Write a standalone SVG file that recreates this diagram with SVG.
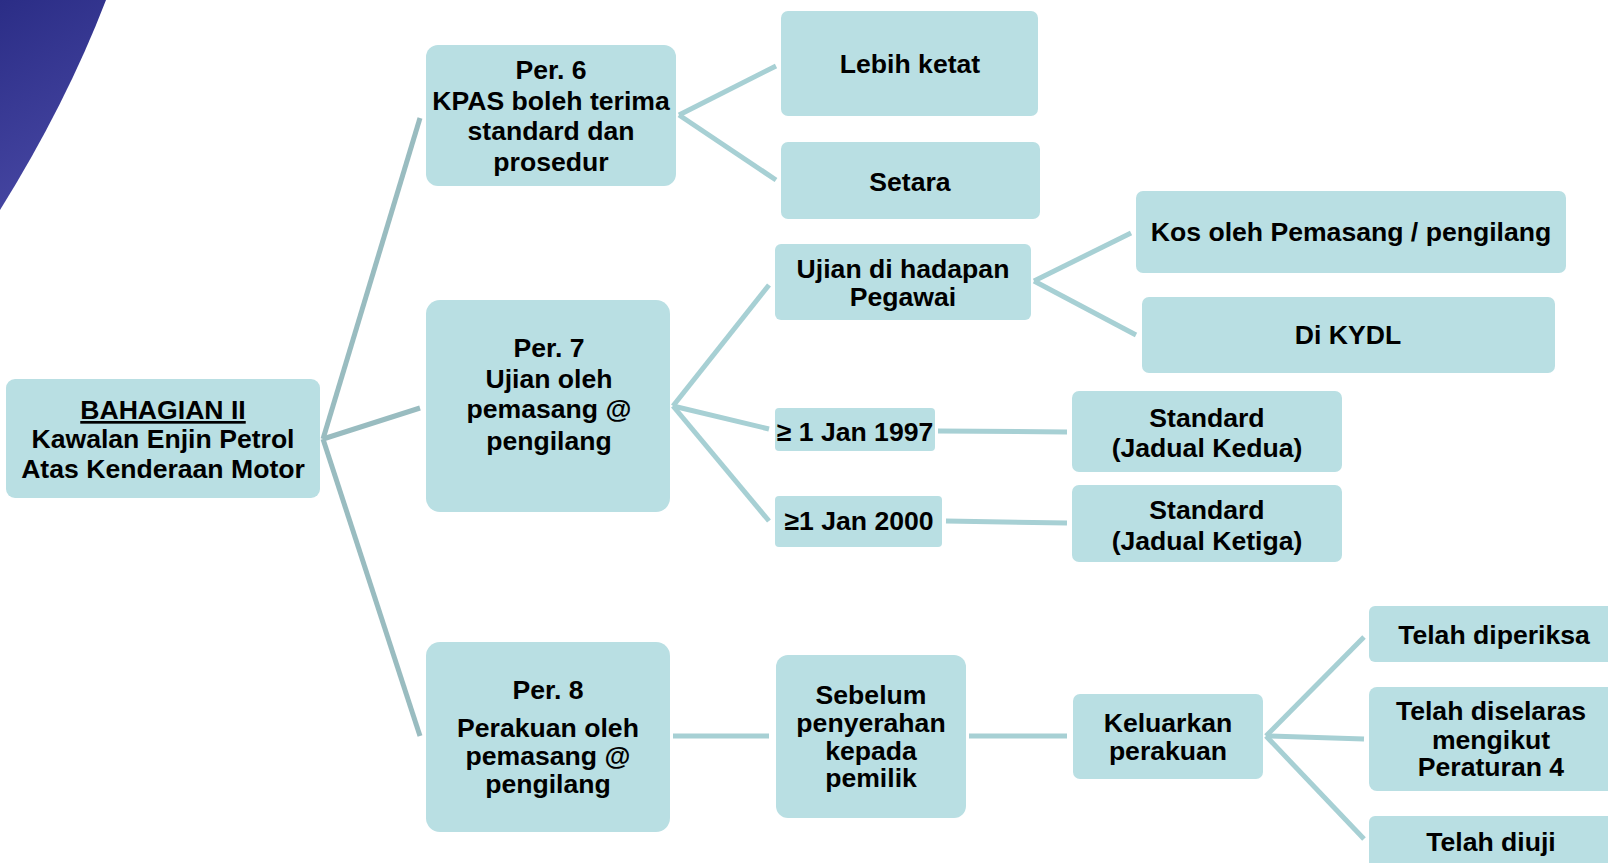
<svg xmlns="http://www.w3.org/2000/svg" width="1608" height="863" viewBox="0 0 1608 863">
  <defs>
    <linearGradient id="corner" x1="0" y1="0" x2="0.3" y2="1">
      <stop offset="0" stop-color="#2b2d86"/>
      <stop offset="1" stop-color="#4646a2"/>
    </linearGradient>
    <style>
      .box { fill: #b9dfe3; }
      .lbl { font-family: "Liberation Sans", Arial, sans-serif; font-weight: bold; font-size: 26.6px; fill: #000; text-anchor: middle; }
      .trunk { stroke: #99bcc0; stroke-width: 5; fill: none; }
      .branch { stroke: #a7d0d4; stroke-width: 5; fill: none; }
    </style>
  </defs>

  <rect width="1608" height="863" fill="#ffffff"/>

  <!-- decorative swoosh, top-left -->
  <path d="M0,0 L106,0 Q66,104 0,210 Z" fill="url(#corner)"/>

  <!-- connectors -->
  <g id="connectors">
    <line class="trunk" x1="323" y1="439" x2="420" y2="118"/>
    <line class="trunk" x1="323" y1="439" x2="420" y2="408"/>
    <line class="trunk" x1="323" y1="439" x2="420" y2="736"/>

    <line class="branch" x1="679" y1="115" x2="776" y2="66"/>
    <line class="branch" x1="679" y1="115" x2="776" y2="180"/>

    <line class="branch" x1="673" y1="406" x2="769" y2="285"/>
    <line class="branch" x1="673" y1="406" x2="769" y2="429"/>
    <line class="branch" x1="673" y1="406" x2="769" y2="521"/>

    <line class="branch" x1="1034" y1="281" x2="1131" y2="233"/>
    <line class="branch" x1="1034" y1="281" x2="1136" y2="335"/>

    <line class="branch" x1="938" y1="431" x2="1067" y2="432"/>
    <line class="branch" x1="946" y1="521" x2="1067" y2="523"/>

    <line class="branch" x1="673" y1="736" x2="769" y2="736"/>
    <line class="branch" x1="969" y1="736" x2="1067" y2="736"/>

    <line class="branch" x1="1266" y1="736" x2="1364" y2="637"/>
    <line class="branch" x1="1266" y1="736" x2="1364" y2="739"/>
    <line class="branch" x1="1266" y1="736" x2="1364" y2="839"/>
  </g>

  <!-- root -->
  <g id="root">
    <rect class="box" x="6" y="379" width="314" height="119" rx="9"/>
    <text class="lbl" x="163" y="419" text-decoration="underline">BAHAGIAN II</text>
    <text class="lbl" x="163" y="448">Kawalan Enjin Petrol</text>
    <text class="lbl" x="163" y="478">Atas Kenderaan Motor</text>
  </g>

  <!-- Per. 6 branch -->
  <g id="per6">
    <rect class="box" x="426" y="45" width="250" height="141" rx="12"/>
    <text class="lbl" x="551" y="79">Per. 6</text>
    <text class="lbl" x="551" y="110">KPAS boleh terima</text>
    <text class="lbl" x="551" y="140">standard dan</text>
    <text class="lbl" x="551" y="171">prosedur</text>
  </g>
  <g id="lebih-ketat">
    <rect class="box" x="781" y="11" width="257" height="105" rx="7"/>
    <text class="lbl" x="910" y="73">Lebih ketat</text>
  </g>
  <g id="setara">
    <rect class="box" x="781" y="142" width="259" height="77" rx="7"/>
    <text class="lbl" x="910" y="191">Setara</text>
  </g>

  <!-- Per. 7 branch -->
  <g id="per7">
    <rect class="box" x="426" y="300" width="244" height="212" rx="14"/>
    <text class="lbl" x="549" y="357">Per. 7</text>
    <text class="lbl" x="549" y="388">Ujian oleh</text>
    <text class="lbl" x="549" y="418">pemasang @</text>
    <text class="lbl" x="549" y="450">pengilang</text>
  </g>
  <g id="ujian-pegawai">
    <rect class="box" x="775" y="244" width="256" height="76" rx="6"/>
    <text class="lbl" x="903" y="278">Ujian di hadapan</text>
    <text class="lbl" x="903" y="306">Pegawai</text>
  </g>
  <g id="kos">
    <rect class="box" x="1136" y="191" width="430" height="82" rx="7"/>
    <text class="lbl" x="1351" y="241">Kos oleh Pemasang / pengilang</text>
  </g>
  <g id="kydl">
    <rect class="box" x="1142" y="297" width="413" height="76" rx="7"/>
    <text class="lbl" x="1348" y="344">Di KYDL</text>
  </g>
  <g id="jan1997">
    <rect class="box" x="775" y="408" width="160" height="43" rx="4"/>
    <text class="lbl" x="855" y="441">≥ 1 Jan 1997</text>
  </g>
  <g id="jan2000">
    <rect class="box" x="775" y="496" width="167" height="51" rx="4"/>
    <text class="lbl" x="859" y="530">≥1 Jan 2000</text>
  </g>
  <g id="jadual-kedua">
    <rect class="box" x="1072" y="391" width="270" height="81" rx="7"/>
    <text class="lbl" x="1207" y="427">Standard</text>
    <text class="lbl" x="1207" y="457">(Jadual Kedua)</text>
  </g>
  <g id="jadual-ketiga">
    <rect class="box" x="1072" y="485" width="270" height="77" rx="7"/>
    <text class="lbl" x="1207" y="519">Standard</text>
    <text class="lbl" x="1207" y="550">(Jadual Ketiga)</text>
  </g>

  <!-- Per. 8 branch -->
  <g id="per8">
    <rect class="box" x="426" y="642" width="244" height="190" rx="14"/>
    <text class="lbl" x="548" y="699">Per. 8</text>
    <text class="lbl" x="548" y="737">Perakuan oleh</text>
    <text class="lbl" x="548" y="765">pemasang @</text>
    <text class="lbl" x="548" y="793">pengilang</text>
  </g>
  <g id="sebelum">
    <rect class="box" x="776" y="655" width="190" height="163" rx="12"/>
    <text class="lbl" x="871" y="704">Sebelum</text>
    <text class="lbl" x="871" y="732">penyerahan</text>
    <text class="lbl" x="871" y="760">kepada</text>
    <text class="lbl" x="871" y="787">pemilik</text>
  </g>
  <g id="keluarkan">
    <rect class="box" x="1073" y="694" width="190" height="85" rx="7"/>
    <text class="lbl" x="1168" y="732">Keluarkan</text>
    <text class="lbl" x="1168" y="760">perakuan</text>
  </g>
  <g id="diperiksa">
    <rect class="box" x="1369" y="606" width="246" height="56" rx="6"/>
    <text class="lbl" x="1494" y="644">Telah diperiksa</text>
  </g>
  <g id="diselaras">
    <rect class="box" x="1369" y="687" width="246" height="104" rx="8"/>
    <text class="lbl" x="1491" y="720">Telah diselaras</text>
    <text class="lbl" x="1491" y="749">mengikut</text>
    <text class="lbl" x="1491" y="776">Peraturan 4</text>
  </g>
  <g id="diuji">
    <rect class="box" x="1369" y="816" width="246" height="60" rx="6"/>
    <text class="lbl" x="1491" y="851">Telah diuji</text>
  </g>
</svg>
